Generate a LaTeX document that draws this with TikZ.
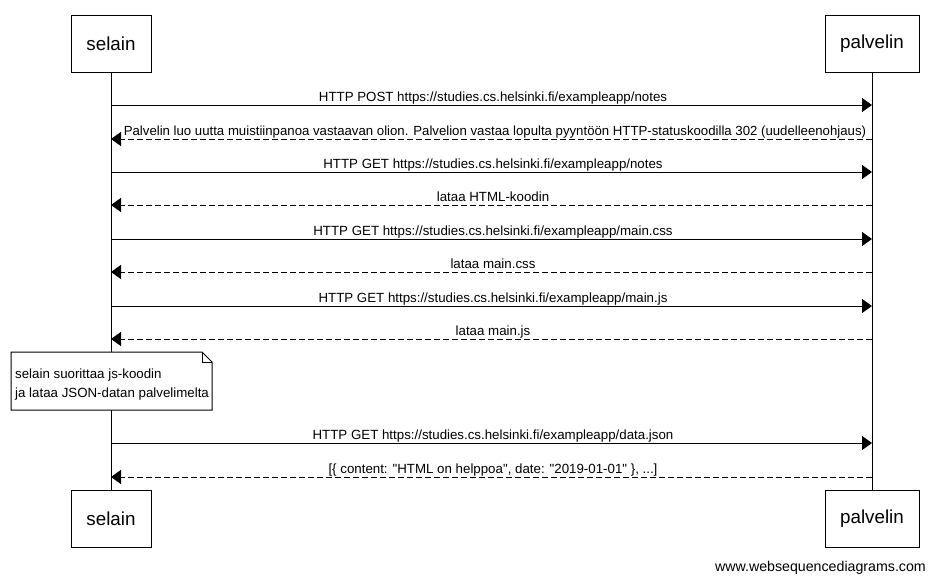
\documentclass[tikz,border=0pt]{standalone}
\usepackage{fontspec}
\setmainfont{Liberation Sans}[Ligatures=TeXOff]
\usetikzlibrary{arrows.meta}
\tikzset{
  actor/.style={draw, line width=1pt, minimum width=80pt, minimum height=57pt, inner sep=0pt, font=\fontsize{18.8}{22}\selectfont, fill=white},
  lifeline/.style={line width=1pt},
  msg/.style={line width=1pt, -{Triangle[length=10pt,width=14pt]}},
  reply/.style={msg, dash pattern=on 6pt off 3pt},
  lbl/.style={font=\fontsize{13.3}{16}\selectfont, inner sep=0pt, anchor=base},
  notetext/.style={font=\fontsize{13.3}{19.5}\selectfont, inner sep=0pt, align=left, anchor=base west}
}
\begin{document}
\begin{tikzpicture}[x=1pt,y=-1pt]
\useasboundingbox (0,0) rectangle (934,581);
\fill[white] (0,0) rectangle (934,581);
% lifelines
\draw[lifeline] (111,72) coordinate (slt) -- (111,490) coordinate (slb);
\draw[lifeline] (872,72) coordinate (plt) -- (872,490) coordinate (plb);
% actors
\node[actor, minimum width=80pt] (selTop) at (111,43.5) {selain};
\node[actor, minimum width=94pt] (palTop) at (872,43.5) {palvelin};
\node[actor, minimum width=80pt] (selBot) at (111,518.5) {selain};
\node[actor, minimum width=94pt] (palBot) at (872,518.5) {palvelin};
% messages
\foreach \n/\y in {1/105,2/139,3/172,4/205,5/239,6/272,7/306,8/339,9/443,10/477}{
  \coordinate (s\n) at (111,\y);
  \coordinate (p\n) at (872,\y);
}
\draw[msg] (s1) -- (p1);
\node[lbl] (l1) at (493,101) {HTTP POST https://studies.cs.helsinki.fi/exampleapp/notes};
\draw[reply] (p2) -- (s2);
\node[lbl, font=\fontsize{13.2}{16}\selectfont] (l2) at (495,135) {Palvelin luo uutta muistiinpanoa vastaavan olion. Palvelion vastaa lopulta pyyntöön HTTP-statuskoodilla 302 (uudelleenohjaus)};
\draw[msg] (s3) -- (p3);
\node[lbl] (l3) at (493,168) {HTTP GET https://studies.cs.helsinki.fi/exampleapp/notes};
\draw[reply] (p4) -- (s4);
\node[lbl] (l4) at (493,201) {lataa HTML-koodin};
\draw[msg] (s5) -- (p5);
\node[lbl] (l5) at (493,235) {HTTP GET https://studies.cs.helsinki.fi/exampleapp/main.css};
\draw[reply] (p6) -- (s6);
\node[lbl] (l6) at (493,268) {lataa main.css};
\draw[msg] (s7) -- (p7);
\node[lbl] (l7) at (493,302) {HTTP GET https://studies.cs.helsinki.fi/exampleapp/main.js};
\draw[reply] (p8) -- (s8);
\node[lbl] (l8) at (493,335) {lataa main.js};
\draw[msg] (s9) -- (p9);
\node[lbl] (l9) at (493,439) {HTTP GET https://studies.cs.helsinki.fi/exampleapp/data.json};
\draw[reply] (p10) -- (s10);
\node[lbl] (l10) at (493,473) {[\{ content: "HTML on helppoa", date: "2019-01-01" \}, ...]};
% note
\draw[line width=1pt, fill=white] (11,352) -- (202,352) -- (212,362) -- (212,410) -- (11,410) -- cycle;
\draw[line width=1pt] (202,352) -- (202,362) -- (212,362);
\node[notetext] (note) at (15,397.5) {selain suorittaa js-koodin\\ja lataa JSON-datan palvelimelta};
% footer
\node[font=\fontsize{14.2}{17}\selectfont, inner sep=0pt, anchor=base east] (foot) at (926,571) {www.websequencediagrams.com};
\end{tikzpicture}
\end{document}
